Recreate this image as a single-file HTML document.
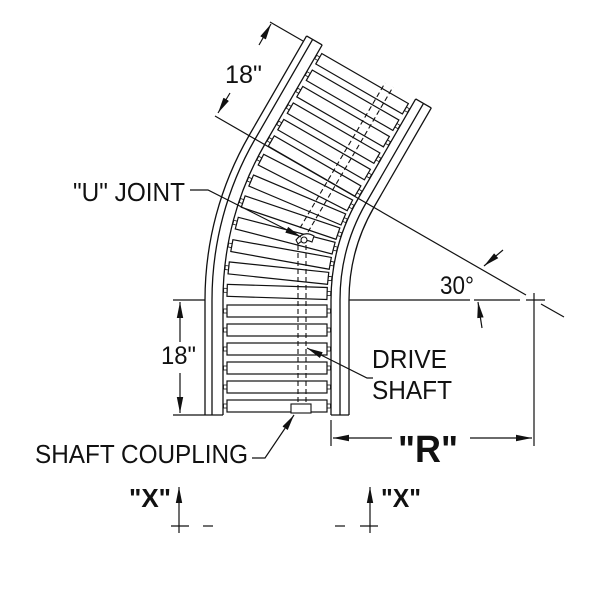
<!DOCTYPE html>
<html><head><meta charset="utf-8"><style>
html,body{margin:0;padding:0;background:#fff;}
svg{display:block;}
text{font-family:"Liberation Sans",sans-serif;fill:#111;}
</style></head><body>
<svg width="600" height="600" viewBox="0 0 600 600" xmlns="http://www.w3.org/2000/svg">
<defs>
<marker id="ar" markerWidth="18" markerHeight="8" refX="16" refY="4" orient="auto-start-reverse" markerUnits="userSpaceOnUse">
<path d="M0,0.8 L16,4 L0,7.2 Z" fill="#111"/>
</marker>
<g id="roller">
<rect x="227" y="-6" width="100" height="12" fill="#fff" stroke="#111" stroke-width="1.2"/>
<rect x="223.5" y="-2" width="3.5" height="4" fill="none" stroke="#111" stroke-width="0.8"/>
<rect x="327" y="-2" width="3.5" height="4" fill="none" stroke="#111" stroke-width="0.8"/>
</g>
<g id="rails">
<line x1="205" y1="0" x2="205" y2="115"/>
<line x1="212" y1="0" x2="212" y2="115"/>
<line x1="223" y1="0" x2="223" y2="115"/>
<line x1="331" y1="0" x2="331" y2="115"/>
<line x1="340" y1="0" x2="340" y2="115"/>
<line x1="349" y1="0" x2="349" y2="115"/>
</g>
</defs>
<g stroke="#111" stroke-width="1.3" fill="none">
<g transform="translate(0,300)"><use href="#rails"/></g>
<line x1="205" y1="415" x2="223" y2="415"/>
<line x1="331" y1="415" x2="349" y2="415"/>
<g transform="rotate(30 534 300) translate(0,185)"><use href="#rails"/></g>
<g transform="rotate(30 534 300)">
<line x1="205" y1="185" x2="223" y2="185"/>
<line x1="331" y1="185" x2="349" y2="185"/>
</g>
<path d="M205,300 A329,329 0 0 1 249.1,135.5"/>
<path d="M212,300 A322,322 0 0 1 255.1,139"/>
<path d="M223,300 A311,311 0 0 1 264.7,144.5"/>
<path d="M331,300 A203,203 0 0 1 358.2,198.5"/>
<path d="M340,300 A194,194 0 0 1 366,203"/>
<path d="M349,300 A185,185 0 0 1 373.8,207.5"/>
</g>
<g transform="translate(0,311)"><use href="#roller"/></g>
<g transform="translate(0,330)"><use href="#roller"/></g>
<g transform="translate(0,349)"><use href="#roller"/></g>
<g transform="translate(0,368)"><use href="#roller"/></g>
<g transform="translate(0,387)"><use href="#roller"/></g>
<g transform="translate(0,406)"><use href="#roller"/></g>
<g transform="rotate(1.8 534 300) translate(0,300)"><use href="#roller"/></g>
<g transform="rotate(6.0 534 300) translate(0,300)"><use href="#roller"/></g>
<g transform="rotate(10.2 534 300) translate(0,300)"><use href="#roller"/></g>
<g transform="rotate(14.5 534 300) translate(0,300)"><use href="#roller"/></g>
<g transform="rotate(18.7 534 300) translate(0,300)"><use href="#roller"/></g>
<g transform="rotate(22.9 534 300) translate(0,300)"><use href="#roller"/></g>
<g transform="rotate(27.2 534 300) translate(0,300)"><use href="#roller"/></g>
<g transform="rotate(30 534 300)">
<g transform="translate(0,293.7)"><use href="#roller"/></g>
<g transform="translate(0,274.7)"><use href="#roller"/></g>
<g transform="translate(0,255.7)"><use href="#roller"/></g>
<g transform="translate(0,236.7)"><use href="#roller"/></g>
<g transform="translate(0,217.7)"><use href="#roller"/></g>
<g transform="translate(0,198.7)"><use href="#roller"/></g>
</g>
<g stroke="#111" stroke-width="1.1" fill="none" stroke-dasharray="5,3">
<line x1="298" y1="245" x2="298" y2="404"/>
<line x1="306" y1="245" x2="306" y2="404"/>
<line x1="300" y1="228" x2="385" y2="83"/>
<line x1="308" y1="232" x2="393" y2="87"/>
</g>
<g stroke="#111" stroke-width="1.1" fill="#fff">
<rect x="291" y="404" width="20" height="9"/>
<path d="M296,240 Q304,230 314,236 L312,242 Q304,238 298,244 Z"/>
<circle cx="304" cy="240" r="3"/>
</g>
<g stroke="#111" stroke-width="1.2" fill="none">
<line x1="173" y1="300" x2="205" y2="300"/>
<line x1="349" y1="300" x2="470" y2="300"/>
<line x1="474" y1="300" x2="520" y2="300"/>
<line x1="526" y1="300" x2="545" y2="300"/>
<line x1="534" y1="293" x2="534" y2="446"/>
<line x1="173" y1="415" x2="205" y2="415"/>
<line x1="180" y1="302" x2="180" y2="342" marker-start="url(#ar)"/>
<line x1="180" y1="373" x2="180" y2="413" marker-end="url(#ar)"/>
<line x1="331" y1="420" x2="331" y2="446"/>
<line x1="333" y1="438" x2="392" y2="438" marker-start="url(#ar)"/>
<line x1="470" y1="438" x2="532" y2="438" marker-end="url(#ar)"/>
<line x1="215" y1="116" x2="526" y2="295"/>
<line x1="541" y1="304" x2="564" y2="317"/>
<line x1="270" y1="22" x2="303" y2="41"/>
<line x1="271" y1="24" x2="259" y2="45" marker-start="url(#ar)"/>
<line x1="230" y1="93" x2="218" y2="113" marker-end="url(#ar)"/>
<line x1="503" y1="250" x2="484" y2="266" marker-end="url(#ar)"/>
<line x1="482" y1="328" x2="478" y2="302" marker-end="url(#ar)"/>
<polyline points="190,190 208,190 301,237" marker-end="url(#ar)"/>
<polyline points="373,378 367,378 307,348" marker-end="url(#ar)"/>
<polyline points="252,458 265,458 294,415" marker-end="url(#ar)"/>
<line x1="179" y1="533" x2="179" y2="487" marker-end="url(#ar)"/>
<line x1="171" y1="526" x2="189" y2="526"/>
<line x1="203" y1="526" x2="213" y2="526"/>
<line x1="370" y1="533" x2="370" y2="487" marker-end="url(#ar)"/>
<line x1="360" y1="526" x2="378" y2="526"/>
<line x1="335" y1="526" x2="345" y2="526"/>
</g>
<text x="225" y="83" font-size="25" textLength="37" lengthAdjust="spacingAndGlyphs">18"</text>
<text x="161" y="364" font-size="25" textLength="35" lengthAdjust="spacingAndGlyphs">18"</text>
<text x="73" y="201" font-size="26" textLength="112" lengthAdjust="spacingAndGlyphs">"U" JOINT</text>
<text x="372" y="368" font-size="26" textLength="75" lengthAdjust="spacingAndGlyphs">DRIVE</text>
<text x="372" y="399" font-size="26" textLength="80" lengthAdjust="spacingAndGlyphs">SHAFT</text>
<text x="35" y="463" font-size="26" textLength="213" lengthAdjust="spacingAndGlyphs">SHAFT COUPLING</text>
<text x="440" y="294" font-size="25" textLength="34" lengthAdjust="spacingAndGlyphs">30°</text>
<text x="398" y="462" font-size="38" font-weight="bold" textLength="60" lengthAdjust="spacingAndGlyphs">"R"</text>
<text x="129" y="507" font-size="26" font-weight="bold" textLength="42" lengthAdjust="spacingAndGlyphs">"X"</text>
<text x="381" y="507" font-size="26" font-weight="bold" textLength="40" lengthAdjust="spacingAndGlyphs">"X"</text>
</svg>
</body></html>
